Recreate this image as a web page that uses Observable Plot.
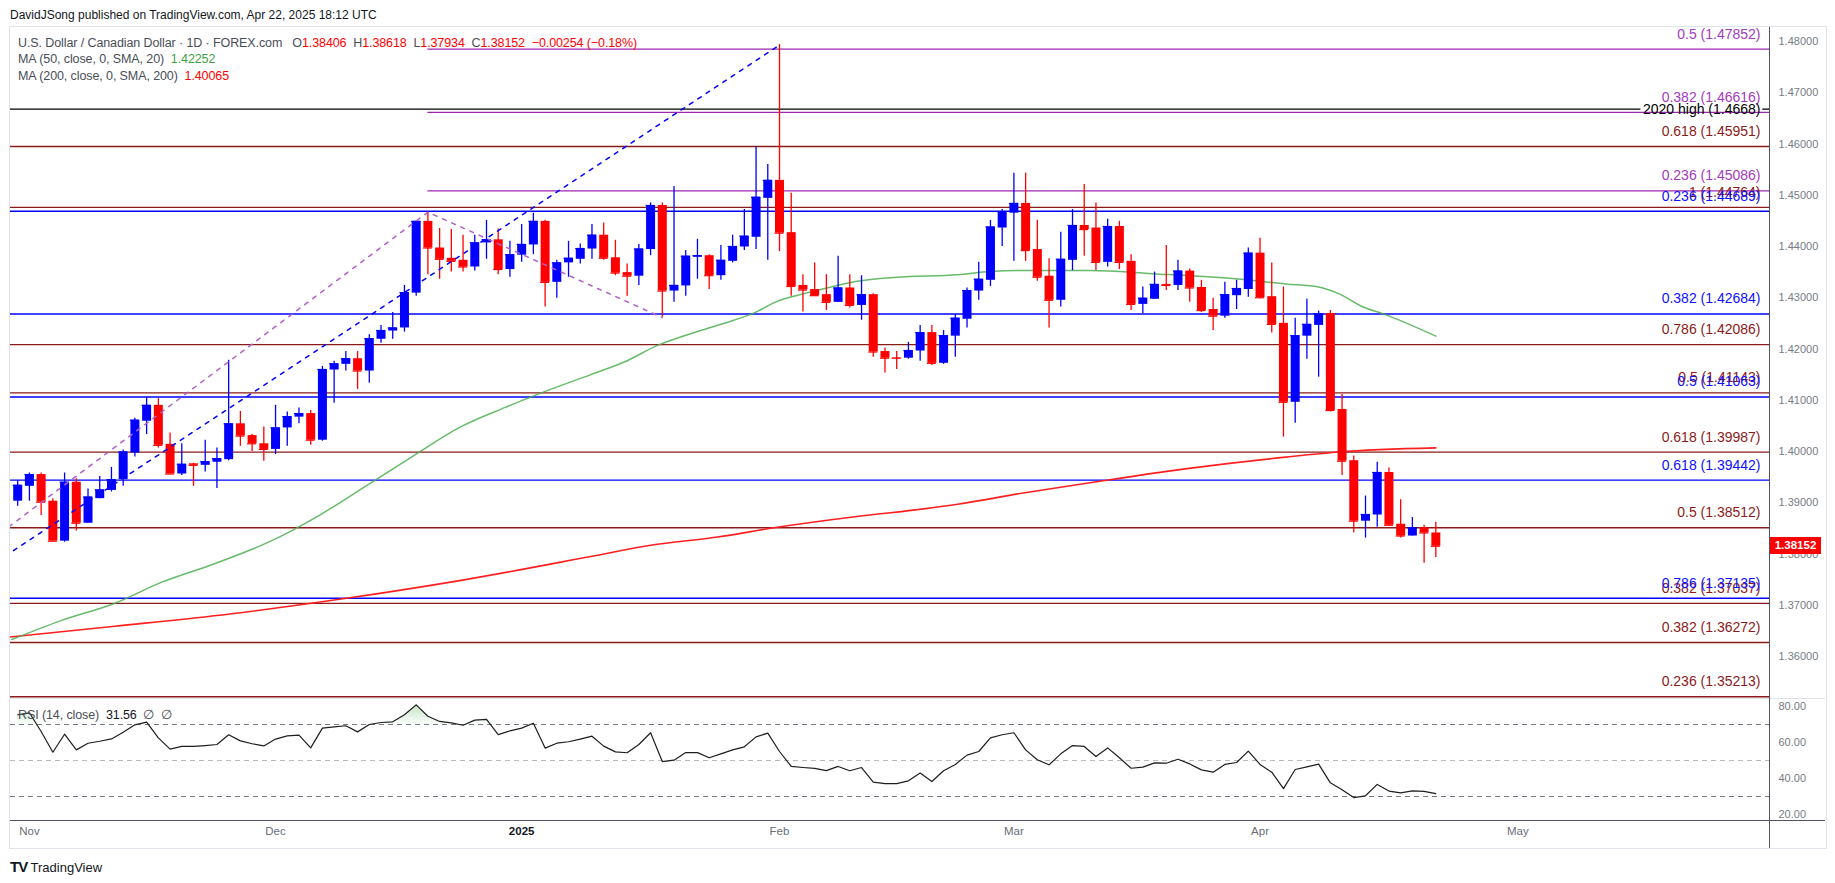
<!DOCTYPE html>
<html><head><meta charset="utf-8">
<script src="https://cdn.jsdelivr.net/npm/d3@7"></script>
<script src="https://cdn.jsdelivr.net/npm/@observablehq/plot@0.6"></script>
<style>
body{margin:0;background:#fff;font-family:"Liberation Sans",Arial,sans-serif;}
#root{position:relative;width:1835px;height:883px;overflow:hidden;background:#fff;}
.abs{position:absolute;white-space:nowrap;line-height:16px;}
.leg{font-size:12.5px;letter-spacing:-0.1px;color:#4a4d57;}
.r{color:#ff0000;} .gr{color:#43a047;} .dk{color:#131722;}
.sep{position:absolute;z-index:5;}
</style></head><body><div id="root"></div>
<script>
// ---------- data ----------
const opens=[1.3903,1.3932,1.3955,1.3903,1.3825,1.3940,1.3860,1.3908,1.3924,1.3945,
1.3997,1.4059,1.4090,1.4014,1.3956,1.3976,1.3973,1.3979,1.3984,1.4054,
1.4031,1.4015,1.4004,1.4046,1.4067,1.4074,1.4022,1.4159,1.4170,1.4181,
1.4157,1.4219,1.4235,1.4241,1.4309,1.4449,1.4397,1.4377,1.4373,1.4360,
1.4407,1.4413,1.4355,1.4383,1.4403,1.4449,1.4330,1.4368,1.4375,1.4395,
1.4422,1.4378,1.4349,1.4342,1.4394,1.4480,1.4313,1.4323,1.4379,1.4382,
1.4343,1.4371,1.4399,1.4418,1.4494,1.4529,1.4427,1.4324,1.4316,1.4306,
1.4291,1.4319,1.4285,1.4306,1.4195,1.4183,1.4182,1.4196,1.4232,1.4172,
1.4225,1.4258,1.4313,1.4334,1.4436,1.4465,1.4484,1.4394,1.4342,1.4295,
1.4373,1.4441,1.4436,1.4369,1.4439,1.4371,1.4287,1.4297,1.4326,1.4324,
1.4352,1.4320,1.4277,1.4264,1.4304,1.4316,1.4387,1.4302,1.4250,1.4096,
1.4225,1.4246,1.4269,1.4082,1.3982,1.3864,1.3876,1.3959,1.3858,1.3835,
1.3851,1.3841];
const highs=[1.3943,1.3958,1.3958,1.3908,1.3958,1.3947,1.3927,1.3951,1.3969,1.4003,
1.4065,1.4106,1.4103,1.4036,1.4015,1.3977,1.4022,1.4007,1.4178,1.4078,
1.4033,1.4048,1.4090,1.4077,1.4085,1.4080,1.4166,1.4176,1.4195,1.4195,
1.4228,1.4246,1.4271,1.4324,1.4449,1.4467,1.4435,1.4433,1.4422,1.4422,
1.4451,1.4434,1.4410,1.4443,1.4465,1.4451,1.4373,1.4410,1.4405,1.4443,
1.4446,1.4412,1.4366,1.4404,1.4485,1.4485,1.4517,1.4392,1.4414,1.4384,
1.4402,1.4422,1.4472,1.4594,1.4560,1.4794,1.4504,1.4345,1.4368,1.4345,
1.4381,1.4345,1.4343,1.4308,1.4202,1.4195,1.4213,1.4246,1.4246,1.4236,
1.4267,1.4319,1.4369,1.4451,1.4472,1.4543,1.4543,1.4451,1.4376,1.4428,
1.4472,1.4521,1.4485,1.4453,1.4449,1.4384,1.4321,1.4350,1.4402,1.4373,
1.4356,1.4334,1.4299,1.4330,1.4334,1.4397,1.4416,1.4368,1.4321,1.4260,
1.4297,1.4274,1.4275,1.4111,1.3991,1.3913,1.3979,1.3968,1.3906,1.3871,
1.3856,1.3862];
const lows=[1.3893,1.3903,1.3875,1.3825,1.3823,1.3845,1.3860,1.3908,1.3921,1.3932,
1.3989,1.4033,1.4007,1.3956,1.3953,1.3932,1.3960,1.3928,1.3982,1.4010,
1.4000,1.3981,1.3994,1.4010,1.4054,1.4012,1.4020,1.4094,1.4157,1.4121,
1.4133,1.4211,1.4219,1.4233,1.4303,1.4345,1.4336,1.4350,1.4350,1.4352,
1.4375,1.4345,1.4340,1.4369,1.4384,1.4282,1.4299,1.4340,1.4366,1.4375,
1.4373,1.4343,1.4303,1.4324,1.4382,1.4262,1.4291,1.4303,1.4336,1.4316,
1.4334,1.4368,1.4392,1.4394,1.4373,1.4390,1.4303,1.4272,1.4303,1.4275,
1.4291,1.4280,1.4256,1.4184,1.4153,1.4160,1.4180,1.4176,1.4168,1.4170,
1.4184,1.4241,1.4295,1.4322,1.4400,1.4371,1.4371,1.4332,1.4241,1.4282,
1.4353,1.4381,1.4353,1.4360,1.4355,1.4275,1.4269,1.4297,1.4314,1.4314,
1.4291,1.4271,1.4236,1.4260,1.4277,1.4301,1.4298,1.4231,1.4028,1.4055,
1.4180,1.4145,1.4077,1.3953,1.3841,1.3831,1.3852,1.3856,1.3831,1.3835,
1.3782,1.3793];
const closes=[1.3934,1.3955,1.3901,1.3825,1.3940,1.3860,1.3911,1.3925,1.3945,1.3999,
1.4061,1.4090,1.4012,1.3956,1.3975,1.3973,1.3980,1.3986,1.4054,1.4030,
1.4015,1.4004,1.4046,1.4068,1.4074,1.4022,1.4160,1.4171,1.4181,1.4157,
1.4220,1.4236,1.4241,1.4310,1.4449,1.4397,1.4375,1.4371,1.4360,1.4407,
1.4413,1.4355,1.4384,1.4404,1.4449,1.4330,1.4368,1.4377,1.4396,1.4422,
1.4377,1.4348,1.4342,1.4395,1.4480,1.4313,1.4324,1.4381,1.4382,1.4343,
1.4373,1.4400,1.4420,1.4496,1.4529,1.4426,1.4322,1.4315,1.4304,1.4291,
1.4319,1.4285,1.4306,1.4194,1.4182,1.4182,1.4197,1.4232,1.4172,1.4226,
1.4260,1.4314,1.4336,1.4438,1.4468,1.4484,1.4392,1.4340,1.4295,1.4375,
1.4441,1.4433,1.4369,1.4439,1.4369,1.4287,1.4299,1.4326,1.4324,1.4352,
1.4319,1.4275,1.4264,1.4306,1.4318,1.4387,1.4300,1.4248,1.4096,1.4226,
1.4248,1.4269,1.4080,1.3981,1.3864,1.3877,1.3959,1.3856,1.3835,1.3851,
1.3841,1.3815];
const rsiValues=[75.4,76.5,66.1,54.6,64.6,55.9,59.6,60.7,62.0,65.7,
69.8,71.3,62.6,56.3,57.8,57.8,58.3,58.9,64.3,60.9,
59.3,58.1,61.9,63.7,64.1,57.0,68.0,68.7,69.3,65.9,
70.0,71.1,71.5,75.4,80.9,74.6,71.7,70.9,69.6,72.4,
72.8,64.4,66.5,68.0,70.7,56.9,59.6,60.4,61.9,63.5,
58.0,54.8,54.3,58.9,65.4,49.4,50.2,54.4,54.4,51.5,
53.7,55.9,57.6,63.1,65.2,55.0,46.7,46.1,45.6,44.4,
46.7,44.3,46.1,38.0,37.2,37.2,38.7,43.0,38.3,44.3,
47.8,53.0,55.0,62.6,64.3,65.4,55.9,50.4,47.6,53.7,
58.3,57.8,52.2,57.0,51.5,45.7,46.3,48.7,48.5,50.7,
48.1,44.8,43.5,47.8,48.9,55.2,47.8,43.5,34.4,45.0,
46.5,48.0,37.6,33.7,29.4,30.4,36.7,33.0,32.0,33.1,
32.8,31.56];
const ma50Idx=[-0.5,3.7,8.3,12.3,16.8,21.4,25.7,29.8,33.8,37.7,41.6,44.3,48.9,51.7,54.6,58.0,61.1,62.8,64.8,67.1,69.4,71.6,75.0,80.2,83.0,85.8,88.7,91.5,96.8,103.9,108.2,111.0,112.7,114.7,116.7,121];
const ma50Val=[1.3633,1.3670,1.3704,1.3745,1.3781,1.3823,1.3875,1.3934,1.3992,1.4047,1.4086,1.4111,1.4150,1.4174,1.4207,1.4234,1.4256,1.4270,1.4293,1.4308,1.4321,1.4332,1.4340,1.4345,1.4351,1.4353,1.4353,1.4353,1.4347,1.4337,1.4327,1.4321,1.4308,1.4283,1.4267,1.4225];
const ma200Idx=[-0.65,8.3,18.1,27.9,37.7,48.9,54.0,59.7,64.8,71.6,77.3,80.2,85.8,91.5,99.6,108.2,112.7,121];
const ma200Val=[1.3638,1.3659,1.3683,1.3713,1.3748,1.3795,1.3817,1.3833,1.3852,1.3873,1.3888,1.3897,1.3919,1.3939,1.3966,1.3989,1.3999,1.4007];
const levelPrices=[1.45951,1.44764,1.42086,1.41143,1.39987,1.38512,1.37037,1.36272,1.35213,
1.47852,1.46616,1.45086,
1.44689,1.42684,1.41063,1.39442,1.37135,
1.4668];
const levelLabels=["0.618 (1.45951)","1 (1.44764)","0.786 (1.42086)","0.5 (1.41143)","0.618 (1.39987)","0.5 (1.38512)","0.382 (1.37037)","0.382 (1.36272)","0.236 (1.35213)",
"0.5 (1.47852)","0.382 (1.46616)","0.236 (1.45086)",
"0.236 (1.44689)","0.382 (1.42684)","0.5 (1.41063)","0.618 (1.39442)","0.786 (1.37135)",
"2020 high (1.4668)"];
const levelGroups=["long","long","long","long","long","long","long","long","long",
"ext","ext","ext","retr","retr","retr","retr","retr","high"];
const swingIdx=[-26,35,55], swingPrice=[1.34197,1.44670,1.42613];
const retraceIdx=[-26,65], retracePrice=[1.34197,1.47930];
const priceTicks=[1.36,1.37,1.38,1.39,1.40,1.41,1.42,1.43,1.44,1.45,1.46,1.47,1.48];
const rsiTicks=[20,40,60,80];
const monthTickIdx=[1,22,43,65,85,106,128];
const monthTickLabels=["Nov","Dec","2025","Feb","Mar","Apr","May"];
const lastPriceLabel="1.38152", lastPriceValue=1.38152;

// ---------- build ----------
const W=1835;
const xDomain=[-0.614,149.47];
const priceDomain=[1.3518,1.48273];
const rsiDomain=[16.67,84.44];
const BLUE="#0000ff", RED="#ff0000";
const gStroke={long:"#8b1a1a",ext:"#9c27b0",retr:"#0000ff",high:"#000000"};
const gText={long:"#8b1a1a",ext:"#a33bbf",retr:"#0f0fff",high:"#000000"};
const bars=opens.map((o,i)=>({i,o,h:highs[i],l:lows[i],c:closes[i],col:closes[i]>=o?BLUE:RED}));
const levels=levelPrices.map((p,k)=>({p,label:levelLabels[k],g:levelGroups[k],col:gStroke[levelGroups[k]],tcol:gText[levelGroups[k]]}));
const ma50=ma50Idx.map((i,k)=>({i,v:ma50Val[k]}));
const ma200=ma200Idx.map((i,k)=>({i,v:ma200Val[k]}));
const swing=swingIdx.map((i,k)=>({i,p:swingPrice[k]}));
const retr=retraceIdx.map((i,k)=>({i,p:retracePrice[k]}));
const lv=g=>levels.filter(d=>d.g===g);
const font='"Liberation Sans", Arial, sans-serif';
const axisFill="#787b86";

const price=Plot.plot({
  width:W,height:671,marginTop:0,marginBottom:0,marginLeft:10,marginRight:66,
  x:{domain:xDomain,axis:null},y:{domain:priceDomain,axis:null},
  color:{type:"identity"},
  style:{background:"transparent",overflow:"visible",fontFamily:font},
  marks:[
    Plot.ruleY(lv("long"),{y:"p",stroke:"col",strokeWidth:1.4}),
    Plot.ruleY(lv("ext"),{y:"p",x1:()=>35,x2:()=>xDomain[1],stroke:"col",strokeWidth:1.4}),
    Plot.ruleY(lv("retr"),{y:"p",stroke:"col",strokeWidth:1.4}),
    Plot.ruleY(lv("high"),{y:"p",x1:()=>xDomain[0],x2:()=>138.5,stroke:"col",strokeWidth:1.3}),
    Plot.ruleY(lv("high"),{y:"p",x1:()=>148.9,x2:()=>xDomain[1],stroke:"col",strokeWidth:1.3}),
    Plot.line(ma200,{x:"i",y:"v",stroke:"#ff1f1f",strokeWidth:1.6,curve:"monotone-x"}),
    Plot.line(ma50,{x:"i",y:"v",stroke:"#4caf50",strokeOpacity:0.85,strokeWidth:1.5,curve:"monotone-x"}),
    Plot.ruleX(bars,{x:"i",y1:"l",y2:"h",stroke:"col",strokeWidth:1.3}),
    Plot.ruleX(bars,{x:"i",y1:"o",y2:"c",stroke:"col",strokeWidth:9}),
    Plot.ruleY(bars,{y:"c",x1:d=>d.i-0.385,x2:d=>d.i+0.385,stroke:"col",strokeWidth:1.2}),
    Plot.line(swing,{x:"i",y:"p",stroke:"#b060cc",strokeWidth:1.5,strokeDasharray:"4,6",clip:true}),
    Plot.line(retr,{x:"i",y:"p",stroke:BLUE,strokeWidth:1.5,strokeDasharray:"4,6",clip:true}),
    Plot.text(lv("long"),{x:()=>xDomain[1],y:"p",text:"label",textAnchor:"end",dx:-9,dy:-15,fill:"tcol",fontSize:14}),
    Plot.text(lv("ext"),{x:()=>xDomain[1],y:"p",text:"label",textAnchor:"end",dx:-9,dy:-15,fill:"tcol",fontSize:14}),
    Plot.text(lv("retr"),{x:()=>xDomain[1],y:"p",text:"label",textAnchor:"end",dx:-9,dy:-15,fill:"tcol",fontSize:14}),
    Plot.text(lv("high"),{x:()=>xDomain[1],y:"p",text:"label",textAnchor:"end",dx:-9,dy:0,fill:"tcol",fontSize:14}),
    Plot.text(priceTicks,{x:()=>xDomain[1],y:d=>d,text:d=>d.toFixed(5),textAnchor:"start",dx:9,fill:axisFill,fontSize:11})
  ]
});

function gradDefs(index,scales){
  const ns="http://www.w3.org/2000/svg";
  const defs=document.createElementNS(ns,"defs");
  const ys=scales&&scales.y?scales.y:null;
  const yTop=ys?ys(rsiDomain[1]):0, y70=ys?ys(70):26, y30=ys?ys(30):98, yBot=ys?ys(rsiDomain[0]):122;
  defs.innerHTML=`<linearGradient id="obGrad" gradientUnits="userSpaceOnUse" x1="0" x2="0" y1="${yTop}" y2="${y70}"><stop offset="0" stop-color="#4caf50" stop-opacity="0.42"/><stop offset="1" stop-color="#4caf50" stop-opacity="0.03"/></linearGradient><linearGradient id="osGrad" gradientUnits="userSpaceOnUse" x1="0" x2="0" y1="${y30}" y2="${yBot}"><stop offset="0" stop-color="#f23645" stop-opacity="0.03"/><stop offset="1" stop-color="#f23645" stop-opacity="0.42"/></linearGradient>`;
  return defs;
}
const rsiData=rsiValues.map((v,i)=>({i,v}));
const rsi=Plot.plot({
  width:W,height:150,marginTop:0,marginBottom:28,marginLeft:10,marginRight:66,
  x:{domain:xDomain,axis:null},y:{domain:rsiDomain,axis:null},
  style:{background:"transparent",overflow:"visible",fontFamily:font},
  marks:[
    gradDefs,
    Plot.areaY(rsiData,{x:"i",y1:()=>70,y2:d=>Math.max(d.v,70),fill:"url(#obGrad)"}),
    Plot.areaY(rsiData,{x:"i",y1:()=>30,y2:d=>Math.min(d.v,30),fill:"url(#osGrad)"}),
    Plot.ruleY([70,30],{stroke:"#787b86",strokeDasharray:"5,4",strokeWidth:1.1}),
    Plot.ruleY([50],{stroke:"#b8bac0",strokeDasharray:"5,4",strokeWidth:1.1}),
    Plot.line(rsiData,{x:"i",y:"v",stroke:"#1e1e1e",strokeWidth:1.2}),
    Plot.text(rsiTicks,{x:()=>xDomain[1],y:d=>d,text:d=>d.toFixed(2),textAnchor:"start",dx:9,fill:axisFill,fontSize:11}),
    Plot.text(monthTickIdx.filter((d,k)=>monthTickLabels[k]!=="2025"),{x:d=>d,text:d=>monthTickLabels[monthTickIdx.indexOf(d)],frameAnchor:"bottom",dy:14,fill:"#6a6d78",fontSize:11.5}),
    Plot.text(monthTickIdx.filter((d,k)=>monthTickLabels[k]==="2025"),{x:d=>d,text:d=>monthTickLabels[monthTickIdx.indexOf(d)],frameAnchor:"bottom",dy:14,fill:"#131722",fontSize:11.5,fontWeight:"bold"})
  ]
});

const root=document.getElementById("root");
function place(el,top){el.style.position="absolute";el.style.left="0px";el.style.top=top+"px";root.appendChild(el);}
place(price,27);
place(rsi,698);

function div(cls,style,html){const d=document.createElement("div");d.className=cls;d.setAttribute("style",style);if(html!=null)d.innerHTML=html;root.appendChild(d);return d;}
// frame & separators
div("sep","left:9px;top:26px;width:1816px;height:821px;border:1px solid #e0e3eb;");
div("sep","left:10px;top:698px;width:1815px;height:1px;background:#e0e3eb;");
div("sep","left:10px;top:820px;width:1815px;height:1px;background:#50535e;");
div("sep","left:1769px;top:27px;width:1px;height:821px;background:#50535e;");

// current price tag
const cy=27+price.scale("y").apply(lastPriceValue);
div("sep",`left:1770px;top:${cy-8.5}px;width:51px;height:17px;background:#ff0000;color:#fff;font-size:11.5px;font-weight:bold;line-height:17px;text-align:center;`,lastPriceLabel);

// texts
div("abs","left:10px;top:7px;font-size:12px;color:#131722;z-index:6","DavidJSong published on TradingView.com, Apr 22, 2025 18:12 UTC");
div("abs leg","left:18px;top:35px;z-index:6",'U.S. Dollar / Canadian Dollar · 1D · FOREX.com&nbsp;&nbsp; O<span class="r">1.38406</span>&nbsp; H<span class="r">1.38618</span>&nbsp; L<span class="r">1.37934</span>&nbsp; C<span class="r">1.38152</span>&nbsp; <span class="r">−0.00254 (−0.18%)</span>');
div("abs leg","left:18px;top:51px;z-index:6",'MA (50, close, 0, SMA, 20)&nbsp; <span class="gr">1.42252</span>');
div("abs leg","left:18px;top:68px;z-index:6",'MA (200, close, 0, SMA, 200)&nbsp; <span class="r">1.40065</span>');
div("abs leg","left:18px;top:707px;z-index:6",'RSI (14, close)&nbsp; <span class="dk">31.56</span>&nbsp; ∅&nbsp; ∅');
div("abs","left:10px;top:859px;z-index:6;font-size:13px;color:#131722",'<b style="font-size:15px;font-weight:900;letter-spacing:-1px">TV</b> TradingView');
</script></body></html>
